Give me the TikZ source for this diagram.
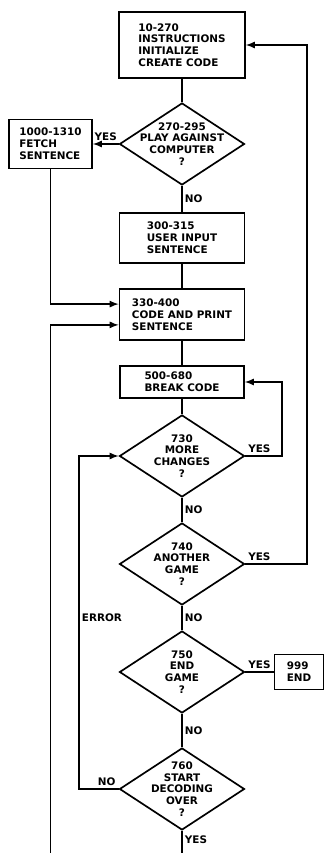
\documentclass[tikz,border=0pt]{standalone}
\usepackage{fontspec}
\newfontfamily\flowfont{DejaVu Sans}
\usetikzlibrary{shapes.geometric}
\begin{document}
\begin{tikzpicture}[
  >=latex,
  every node/.style={font=\flowfont\bfseries\fontsize{7.4}{8.4}\selectfont},
  block/.style={draw, very thick, align=left, inner sep=2pt},
  decision/.style={draw, very thick, diamond, align=center, inner sep=-16pt,
    minimum width=3.125cm, minimum height=2.05cm},
  lbl/.style={inner sep=1.5pt},
]
\useasboundingbox (0,0) rectangle (8.1,21.325);
% Main column
\node[block, minimum width=3.15cm, minimum height=1.65cm] (b10) at (4.55, 20.2) {10-270\\INSTRUCTIONS\\INITIALIZE\\CREATE CODE};
\node[decision] (d270) at (4.55, 17.725) {270-295\\PLAY AGAINST\\COMPUTER\\?};
\node[block, minimum width=2.075cm, minimum height=1.225cm] (b1000) at (1.2625, 17.725) {1000-1310\\FETCH\\SENTENCE};
\node[block, minimum width=3.125cm, minimum height=1.25cm] (b300) at (4.55, 15.375) {300-315\\USER INPUT\\SENTENCE};
\node[block, minimum width=3.125cm, minimum height=1.275cm] (b330) at (4.55, 13.4625) {330-400\\CODE AND PRINT\\SENTENCE};
\node[block, minimum width=3.1cm, minimum height=0.8cm] (b500) at (4.55, 11.775) {500-680\\BREAK CODE};
\node[decision] (d730) at (4.55, 9.925) {730\\MORE\\CHANGES\\?};
\node[decision] (d740) at (4.55, 7.225) {740\\ANOTHER\\GAME\\?};
\node[decision] (d750) at (4.55, 4.525) {750\\END\\GAME\\?};
\node[block, minimum width=1.225cm, minimum height=0.875cm] (b999) at (7.475, 4.525) {999\\END};
\node[decision] (d760) at (4.55, 1.6) {760\\START\\DECODING\\OVER\\?};
% Loop corners
\coordinate (loop10) at (7.675, 20.2);
\coordinate (loop500) at (7.05, 11.775);
\coordinate (loop730) at (1.975, 9.925);
\coordinate (loop330) at (1.2625, -0.3);
% Flow
\draw[very thick] (b10) -- (d270);
\draw[->, very thick] (d270) -- node[lbl, above]{YES} (b1000);
\draw[very thick] (d270) -- node[lbl, right]{NO} (b300);
\draw[very thick] (b300) -- (b330);
\draw[->, very thick] (b1000) |- ([yshift=0.26cm]b330.west);
\draw[very thick] (b330) -- (b500);
\draw[very thick] (b500) -- (d730);
\draw[->, very thick] (d730.east) -| node[lbl, pos=0, anchor=south west]{YES} (loop500) -- (b500.east);
\draw[very thick] (d730) -- node[lbl, right]{NO} (d740);
\draw[->, very thick] (d740.east) -| node[lbl, pos=0, anchor=south west]{YES} (loop10) -- (b10.east);
\draw[very thick] (d740) -- node[lbl, right]{NO} (d750);
\draw[very thick] (d750) -- node[lbl, above]{YES} (b999);
\draw[very thick] (d750) -- node[lbl, right]{NO} (d760);
\draw[->, very thick] (d760.west) -| node[lbl, pos=0.15, above]{NO} node[lbl, pos=0.757, right]{ERROR} (loop730) -- (d730.west);
\draw[->, very thick] (d760.south) |- node[lbl, pos=0.13, right]{YES} (loop330) |- ([yshift=-0.26cm]b330.west);
\end{tikzpicture}
\end{document}
